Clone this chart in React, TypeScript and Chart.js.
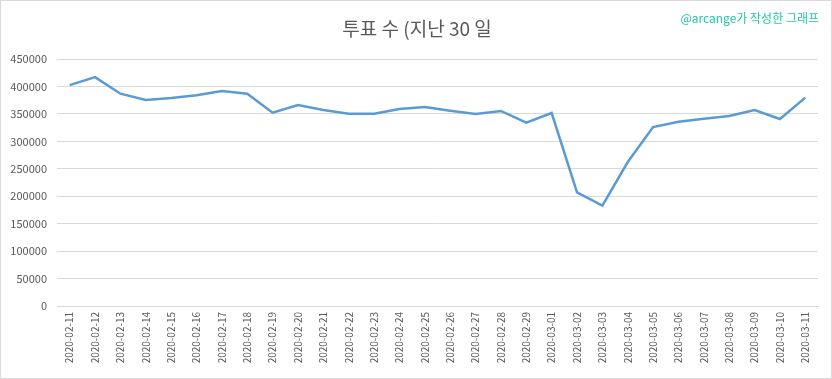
import React, { useEffect, useRef } from "react";
import { Chart, registerables } from "chart.js";

Chart.register(...registerables);

const dates = [
  "2020-02-11", "2020-02-12", "2020-02-13", "2020-02-14", "2020-02-15",
  "2020-02-16", "2020-02-17", "2020-02-18", "2020-02-19", "2020-02-20",
  "2020-02-21", "2020-02-22", "2020-02-23", "2020-02-24", "2020-02-25",
  "2020-02-26", "2020-02-27", "2020-02-28", "2020-02-29", "2020-03-01",
  "2020-03-02", "2020-03-03", "2020-03-04", "2020-03-05", "2020-03-06",
  "2020-03-07", "2020-03-08", "2020-03-09", "2020-03-10", "2020-03-11",
];

const votes = [
  402500, 417000, 386800, 375300, 378800,
  383800, 391700, 386800, 352200, 366200,
  357100, 350400, 350400, 358900, 362600,
  355900, 349800, 355300, 334000, 351600,
  207100, 182800, 262300, 326100, 335800,
  341300, 346200, 357100, 340700, 379600,
];

const yTicks = [0, 50000, 100000, 150000, 200000, 250000, 300000, 350000, 400000, 450000];

const titleText = "투표 수 (지난 30 일";
const creditText = "@arcange가 작성한 그래프";

const FONT = "'Noto Sans CJK KR', 'Noto Sans', sans-serif";

const textPlugin = {
  id: "headerText",
  afterDraw(chart: any) {
    const ctx = chart.ctx;
    ctx.save();
    ctx.fillStyle = "#595959";
    ctx.font = `19px ${FONT}`;
    ctx.textAlign = "center";
    ctx.textBaseline = "middle";
    ctx.fillText(titleText, 416, 28);
    ctx.fillStyle = "#22c7a5";
    ctx.font = `12px ${FONT}`;
    ctx.textAlign = "right";
    ctx.fillText(creditText, 818, 17);
    ctx.restore();
  },
};

export default function App() {
  const ref = useRef<HTMLCanvasElement>(null);
  useEffect(() => {
    document.body.style.margin = "0";
    const chart = new Chart(ref.current!, {
      type: "line",
      data: {
        labels: dates,
        datasets: [
          {
            data: votes,
            borderColor: "#5b9bd5",
            borderWidth: 2.5,
            pointRadius: 0,
            tension: 0,
            fill: false,
          },
        ],
      },
      options: {
        animation: false,
        responsive: false,
        maintainAspectRatio: false,
        layout: { padding: { top: 58, right: 13, left: 0, bottom: 6 } },
        plugins: {
          legend: { display: false },
          title: { display: false },
          tooltip: { enabled: false },
        },
        scales: {
          x: {
            offset: true,
            grid: { display: false, drawTicks: false },
            border: { display: true, color: "#d9d9d9", width: 1 },
            ticks: {
              color: "#595959",
              font: { family: FONT, size: 10 },
              maxRotation: 90,
              minRotation: 90,
              autoSkip: false,
              padding: 6,
            },
            afterFit(scale: any) {
              scale.height = 66;
            },
          },
          y: {
            min: 0,
            max: 450000,
            afterBuildTicks(scale: any) {
              scale.ticks = yTicks.map((v) => ({ value: v }));
            },
            grid: { color: "#d9d9d9", drawTicks: false },
            border: { display: false },
            ticks: {
              color: "#595959",
              font: { family: FONT, size: 11 },
              padding: 10,
              callback: (v: any) => String(v),
            },
            afterFit(scale: any) {
              scale.width = 56;
            },
          },
        },
      },
      plugins: [textPlugin],
    });
    return () => chart.destroy();
  }, []);
  return (
    <div
      style={{
        position: "absolute",
        left: 0,
        top: 0,
        width: 832,
        height: 379,
        boxSizing: "border-box",
        border: "1px solid #d9d9d9",
        background: "#fff",
      }}
    >
      <canvas ref={ref} width={830} height={377} style={{ display: "block" }} />
    </div>
  );
}
